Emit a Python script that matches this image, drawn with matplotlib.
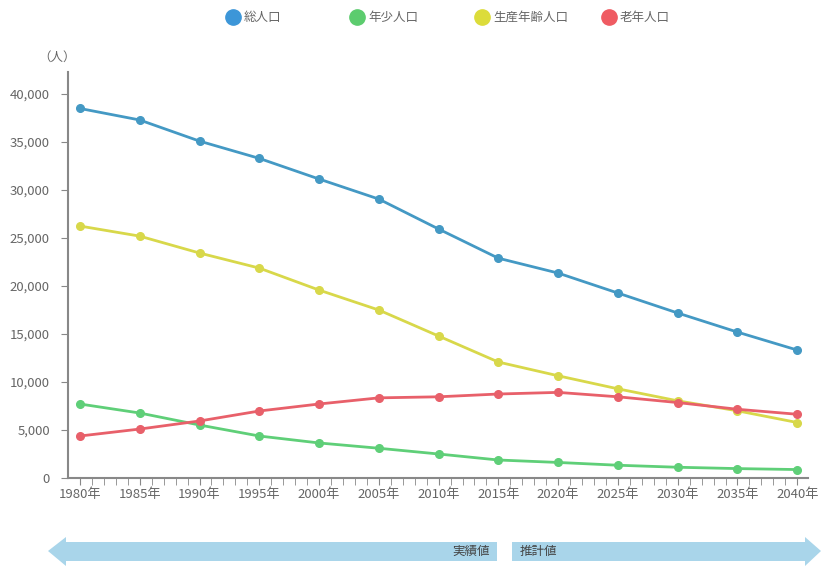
import matplotlib.pyplot as plt
from matplotlib.patches import Polygon
from matplotlib.lines import Line2D

plt.rcParams['font.family'] = ['Noto Sans CJK JP', 'DejaVu Sans']

years = [1980, 1985, 1990, 1995, 2000, 2005, 2010, 2015, 2020, 2025, 2030, 2035, 2040]
total = [38500, 37300, 35100, 33300, 31150, 29060, 25940, 22900, 21350, 19270, 17190, 15200, 13330]
young = [7710, 6770, 5520, 4375, 3650, 3100, 2500, 1875, 1620, 1330, 1120, 980, 880]
working = [26250, 25200, 23440, 21870, 19580, 17500, 14790, 12080, 10650, 9290, 8040, 7000, 5780]
elderly = [4375, 5100, 5940, 6980, 7710, 8350, 8460, 8750, 8920, 8460, 7860, 7160, 6640]

series_names = ['総人口', '年少人口', '生産年齢人口', '老年人口']
line_colors = ['#4499c4', '#5fcf78', '#d8d84a', '#e8606a']
legend_colors = ['#3c96d8', '#5ccc6e', '#dcdc3a', '#ef5b62']
x_labels = [f'{y}年' for y in years]

W, H = 821, 566
fig = plt.figure(figsize=(W / 100, H / 100), dpi=100)
ax = fig.add_axes([68 / W, 1 - 478 / H, 740 / W, 406 / H])

for vals, col in zip([total, young, working, elderly], line_colors):
    ax.plot(years, vals, color=col, lw=2, marker='o', ms=5.5, zorder=3)

ax.set_xlim(1979.0, 2040.9)
ax.set_ylim(0, 42300)
ax.set_xticks(years)
ax.set_xticklabels(x_labels)
ax.set_xticks(range(1980, 2041), minor=True)
ax.set_yticks(range(0, 40001, 5000))
ax.set_yticklabels([f'{v:,}' for v in range(0, 40001, 5000)])

for s in ['top', 'right']:
    ax.spines[s].set_visible(False)
for s in ['left', 'bottom']:
    ax.spines[s].set_color('#888888')
    ax.spines[s].set_linewidth(1.5)
ax.tick_params(axis='both', colors='#888888', labelcolor='#666666', labelsize=9.5)
ax.tick_params(axis='x', length=5, pad=2)
ax.tick_params(axis='x', which='minor', length=5, color='#888888')
ax.tick_params(axis='y', length=5, pad=8)

fig.text(38 / W, 1 - 57 / H, '（人）', fontsize=9, color='#666666', va='center', ha='left')

# legend
leg_x = [233, 357, 482, 609]
for x, name, col in zip(leg_x, series_names, legend_colors):
    fig.add_artist(Line2D([x / W], [1 - 17 / H], marker='o', ms=11, color=col,
                          transform=fig.transFigure, lw=0))
    fig.text((x + 11) / W, 1 - 17 / H, name, fontsize=9, color='#666666', va='center', ha='left')

# bottom arrows
def px(pts):
    return [(x / W, 1 - y / H) for x, y in pts]

arrow_col = '#a9d5ea'
left_arrow = px([(48, 551), (66, 537), (66, 542), (497, 542), (497, 561), (66, 561), (66, 566)])
right_arrow = px([(512, 542), (805, 542), (805, 537), (821, 551), (805, 566), (805, 561), (512, 561)])
for pts in [left_arrow, right_arrow]:
    fig.add_artist(Polygon(pts, closed=True, facecolor=arrow_col, edgecolor='none',
                           transform=fig.transFigure))
fig.text(490 / W, 1 - 551 / H, '実績値', fontsize=9, color='#444444', va='center', ha='right')
fig.text(520 / W, 1 - 551 / H, '推計値', fontsize=9, color='#444444', va='center', ha='left')

fig.savefig('out.png', dpi=100)
